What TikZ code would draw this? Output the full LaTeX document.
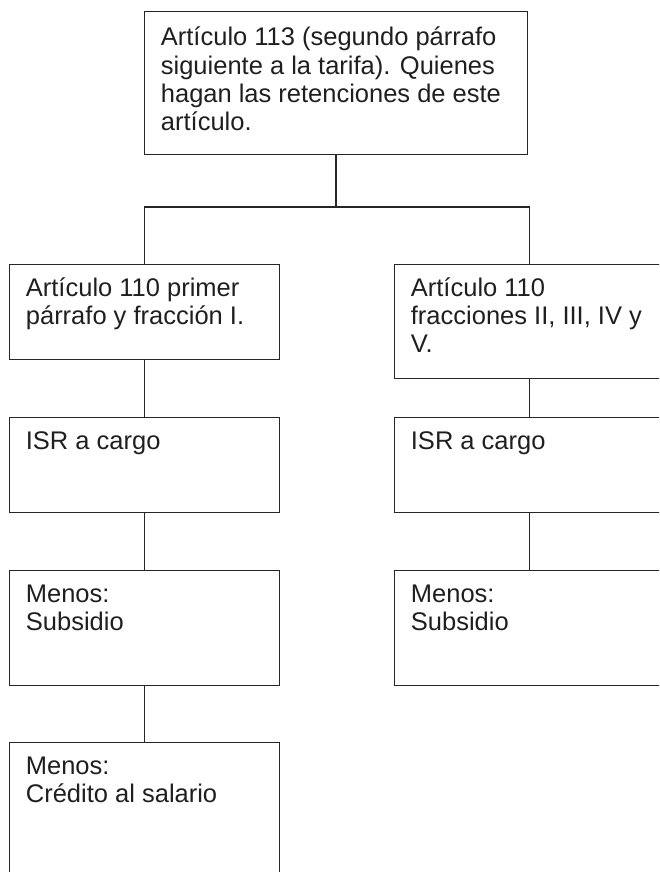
\documentclass[tikz,border=0pt]{standalone}
\usepackage{fontspec}
\setmainfont{Liberation Sans}
\newcommand{\tblock}[1]{\parbox[t]{340pt}{\raggedright #1}}
\begin{document}
\begin{tikzpicture}[x=1pt,y=-1pt,
  box/.style={draw=black!85, line width=1.3pt, rectangle, inner sep=0pt, anchor=north west},
  txt/.style={inner sep=0pt, anchor=base west, text=black!88,
    font=\fontsize{25.5}{28.3}\selectfont},
  conn/.style={draw=black!85, line width=1.3pt}]
\useasboundingbox (0,0) rectangle (659,872);
\clip (0,0) rectangle (659,872);
% boxes
\node[box, minimum width=383pt, minimum height=143pt] (top) at (144,11) {};
\node[box, minimum width=270pt, minimum height=95pt]  (L1) at (9,264) {};
\node[box, minimum width=270pt, minimum height=114pt] (R1) at (394,264) {};
\node[box, minimum width=270pt, minimum height=95pt]  (L2) at (9,417) {};
\node[box, minimum width=270pt, minimum height=95pt]  (R2) at (394,417) {};
\node[box, minimum width=270pt, minimum height=115pt] (L3) at (9,570) {};
\node[box, minimum width=270pt, minimum height=115pt] (R3) at (394,570) {};
\node[box, minimum width=270pt, minimum height=150pt] (L4) at (9,742) {};
% texts
\node[txt] (t0) at (160.7,46) {\tblock{Artículo 113 (segundo párrafo\\siguiente a la tarifa). Quienes\\hagan las retenciones de este\\artículo.}};
\node[txt] (tL1) at (25.7,296) {\tblock{Artículo 110 primer\\párrafo y fracción I.}};
\node[txt] (tR1) at (410.7,296) {\tblock{Artículo 110\\fracciones II, III, IV y\\V.}};
\node[txt] (tL2) at (25.7,449) {\tblock{ISR a cargo}};
\node[txt] (tR2) at (410.7,449) {\tblock{ISR a cargo}};
\node[txt] (tL3) at (25.7,602) {\tblock{Menos:\\Subsidio}};
\node[txt] (tR3) at (410.7,602) {\tblock{Menos:\\Subsidio}};
\node[txt] (tL4) at (25.7,774) {\tblock{Menos:\\Crédito al salario}};
% connectors
\coordinate (bar) at (336,207);
\draw[conn] (top.south -| bar) -- (bar);
\draw[conn] (L1.north) -- (L1.north |- bar) -- (R1.north |- bar) -- (R1.north);
\draw[conn] (L1.south) -- (L2.north);
\draw[conn] (R1.south) -- (R2.north);
\draw[conn] (L2.south) -- (L3.north);
\draw[conn] (R2.south) -- (R3.north);
\draw[conn] (L3.south) -- (L4.north);
\end{tikzpicture}
\end{document}
